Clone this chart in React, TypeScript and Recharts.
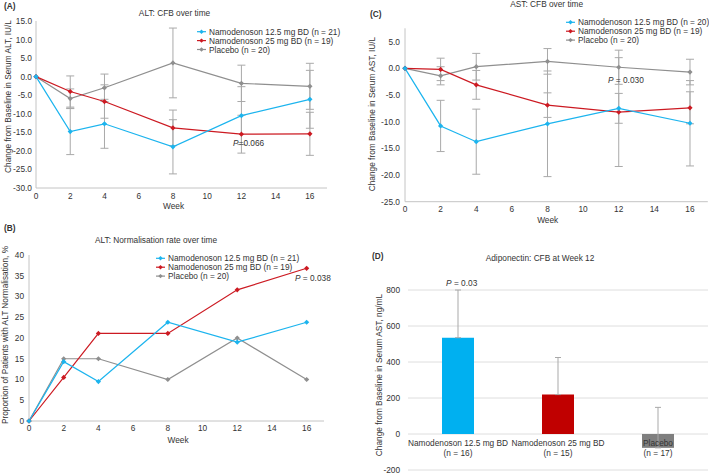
import { LineChart, Line, BarChart, Bar, Cell, XAxis, YAxis, CartesianGrid, ErrorBar } from 'recharts';

const weeks = [0, 2, 4, 8, 12, 16];
const weekTicks = [0, 2, 4, 6, 8, 10, 12, 14, 16];

// (A) ALT change from baseline, IU/L
const altCfb125 = [0, -14.8, -12.7, -18.9, -10.5, -6.1];
const altCfb25 = [0, -4.0, -6.7, -13.8, -15.5, -15.4];
const altCfbPbo = [0, -5.9, -3.0, 3.7, -1.8, -2.6];
const altErr125 = [null, 6.2, 6.6, 7.3, 7.8, 7.8];
const altErr25 = [null, 4.2, 4.5, 4.8, 5.1, 5.8];
const altErrPbo = [null, 2.6, 3.7, 9.4, 4.9, 6.2];
const altCfbTicks = [-30, -25, -20, -15, -10, -5, 0, 5, 10, 15];
const altLegend = ['Namodenoson 12.5 mg BD (n = 21)', 'Namodenoson 25 mg BD (n = 19)', 'Placebo (n = 20)'];

// (B) ALT normalisation rate, %
const altNorm125 = [0, 14.3, 9.5, 23.8, 19.0, 23.8];
const altNorm25 = [0, 10.5, 21.1, 21.1, 31.6, 36.8];
const altNormPbo = [0, 15, 15, 10, 20, 10];
const normTicks = [0, 5, 10, 15, 20, 25, 30, 35, 40];

// (C) AST change from baseline, IU/L
const astCfb125 = [0, -10.8, -13.75, -10.4, -7.5, -10.3];
const astCfb25 = [0, -0.2, -3.1, -6.9, -8.2, -7.4];
const astCfbPbo = [0, -1.4, 0.3, 1.3, 0.2, -0.7];
const astErr125 = [null, 4.8, 6.1, 9.9, 2.8, 8.0];
const astErr25 = [null, 2.1, 2.7, 2.3, 10.2, 3.0];
const astErrPbo = [null, 1.7, 2.5, 2.4, 3.2, 2.4];
const astCfbTicks = [-25, -20, -15, -10, -5, 0, 5];
const astLegend = ['Namodenoson 12.5 mg BD (n = 20)', 'Namodenoson 25 mg BD (n = 19)', 'Placebo (n = 20)'];

// (D) Adiponectin change at week 12, ng/mL
const adipoGroups = ['Namodenoson 12.5 mg BD', 'Namodenoson 25 mg BD', 'Placebo'];
const adipoN = ['(n = 16)', '(n = 15)', '(n = 17)'];
const adipoCfb = [535, 219, -77];
const adipoErrUp = [265, 206, 225];
const adipoTicks = [-200, 0, 200, 400, 600, 800];

const FONT = '"Liberation Sans", Arial, Helvetica, sans-serif';
const BLUE = '#1cb4ee';
const RED = '#cc1a22';
const GRAY = '#8f8f8f';
const ERR = '#a9a9a9';
const AXIS = '#c4c4c4';
const TXT = '#333';
const FS = 8.3;
const seriesColors = [BLUE, RED, GRAY];
const barColors = ['#00b0f0', '#c00000', '#7f7f7f'];

const tickStyle = { fontSize: FS, fill: TXT, fontFamily: FONT };

const altCfbRows = weeks.map((w, i) => ({
  week: w, a: altCfb125[i], b: altCfb25[i], c: altCfbPbo[i],
  ea: altErr125[i], eb: altErr25[i], ec: altErrPbo[i],
}));
const astCfbRows = weeks.map((w, i) => ({
  week: w, a: astCfb125[i], b: astCfb25[i], c: astCfbPbo[i],
  ea: astErr125[i], eb: astErr25[i], ec: astErrPbo[i],
}));
const normRows = weeks.map((w, i) => ({ week: w, a: altNorm125[i], b: altNorm25[i], c: altNormPbo[i] }));
const adipoRows = adipoGroups.map((g, i) => ({ name: g, v: adipoCfb[i], err: [0, adipoErrUp[i]] }));

const diamond = (color: string) => (p: any) => {
  if (p.cx == null || p.cy == null) return <g key={p.index} />;
  const s = 2.6;
  return (
    <path
      key={p.index}
      d={`M${p.cx},${p.cy - s}L${p.cx + s},${p.cy}L${p.cx},${p.cy + s}L${p.cx - s},${p.cy}Z`}
      fill={color}
    />
  );
};

function series(withErr: boolean) {
  const keys = ['c', 'b', 'a'];
  const cols = [GRAY, RED, BLUE];
  return keys.map((k, i) => (
    <Line
      key={k}
      dataKey={k}
      stroke={cols[i]}
      strokeWidth={1.2}
      dot={diamond(cols[i])}
      activeDot={false}
      isAnimationActive={false}
    >
      {withErr ? <ErrorBar dataKey={'e' + k} direction="y" width={4} stroke={ERR} strokeWidth={1} /> : null}
    </Line>
  ));
}

function Legend3({ x, y, labels }: { x: number; y: number; labels: string[] }) {
  return (
    <g>
      {labels.map((l, i) => {
        const cy = y + i * 8.9;
        return (
          <g key={l}>
            <line x1={x} x2={x + 9} y1={cy} y2={cy} stroke={seriesColors[i]} strokeWidth={1.2} />
            <path d={`M${x + 4.5},${cy - 2.2}L${x + 6.7},${cy}L${x + 4.5},${cy + 2.2}L${x + 2.3},${cy}Z`} fill={seriesColors[i]} />
            <text x={x + 12} y={cy + 3} fontSize={FS} fill={TXT}>{l}</text>
          </g>
        );
      })}
    </g>
  );
}

function VLabel({ x, y, text }: { x: number; y: number; text: string }) {
  return (
    <text x={x} y={y} fontSize={FS} fill={TXT} textAnchor="middle" transform={`rotate(-90 ${x} ${y})`}>
      {text}
    </text>
  );
}

const CatTick = (p: any) => {
  const i = p.index ?? p.payload?.index ?? 0;
  return (
    <g>
      <text x={p.x} y={p.y - 23.7} textAnchor="middle" fontSize={FS} fill={TXT} fontFamily={FONT}>{adipoGroups[i]}</text>
      <text x={p.x} y={p.y - 13.7} textAnchor="middle" fontSize={FS} fill={TXT} fontFamily={FONT}>{adipoN[i]}</text>
    </g>
  );
};

export default function App() {
  return (
    <div style={{ position: 'absolute', left: 0, top: 0, width: 709, height: 474, background: '#fff', fontFamily: FONT, overflow: 'hidden' }}>
      {/* (A) */}
      <div style={{ position: 'absolute', left: 0, top: 0 }}>
        <LineChart width={340} height={210} data={altCfbRows} margin={{ top: 21, right: 13, left: 0, bottom: 0 }}>
          <XAxis dataKey="week" type="number" domain={[0, 17]} ticks={weekTicks} interval={0} height={22} tickLine={false} tickSize={3} tickMargin={2} stroke={AXIS} tick={tickStyle} />
          <YAxis type="number" domain={[-30, 15]} ticks={altCfbTicks} interval={0} width={36} tickLine={false} tickSize={2} tickMargin={2} stroke={AXIS} tick={tickStyle} tickFormatter={(v: number) => v.toFixed(1)} />
          {series(true)}
        </LineChart>
      </div>

      {/* (B) */}
      <div style={{ position: 'absolute', left: 0, top: 235 }}>
        <LineChart width={340} height={215} data={normRows} margin={{ top: 20, right: 16, left: 0, bottom: 0 }}>
          <XAxis dataKey="week" type="number" domain={[0, 17]} ticks={weekTicks} interval={0} height={29} tickLine={false} tickSize={2} tickMargin={2} stroke={AXIS} tick={tickStyle} />
          <YAxis type="number" domain={[0, 40]} ticks={normTicks} interval={0} width={29} tickLine={false} tickSize={2} tickMargin={3} stroke={AXIS} tick={tickStyle} />
          {series(false)}
        </LineChart>
      </div>

      {/* (C) */}
      <div style={{ position: 'absolute', left: 355, top: 0 }}>
        <LineChart width={354} height={225} data={astCfbRows} margin={{ top: 28.3, right: 1.2, left: 0, bottom: 0 }}>
          <XAxis dataKey="week" type="number" domain={[0, 17]} ticks={weekTicks} interval={0} height={23.3} tickLine={false} tickSize={2} tickMargin={2} stroke={AXIS} tick={tickStyle} />
          <YAxis type="number" domain={[-25, 7.5]} ticks={astCfbTicks} interval={0} width={50} tickLine={false} tickSize={2} tickMargin={3} stroke={AXIS} tick={tickStyle} tickFormatter={(v: number) => v.toFixed(1)} />
          {series(true)}
        </LineChart>
      </div>

      {/* (D) */}
      <div style={{ position: 'absolute', left: 355, top: 270 }}>
        <BarChart width={354} height={204} data={adipoRows} margin={{ top: 20, right: 1, left: 0, bottom: 0 }}>
          <CartesianGrid vertical={false} stroke="#dedede" />
          <XAxis dataKey="name" height={4} axisLine={false} tickLine={false} tickSize={0} tickMargin={0} tick={<CatTick />} interval={0} />
          <YAxis type="number" domain={[-200, 800]} ticks={adipoTicks} interval={0} width={53} axisLine={false} tickLine={false} tickSize={4} tickMargin={4} tick={tickStyle} />
          <Bar dataKey="v" barSize={32} isAnimationActive={false}>
            {adipoRows.map((r, i) => <Cell key={r.name} fill={barColors[i]} />)}
            <ErrorBar dataKey="err" direction="y" width={3} stroke={ERR} strokeWidth={1} />
          </Bar>
        </BarChart>
      </div>

      <svg width={709} height={474} style={{ position: 'absolute', left: 0, top: 0, pointerEvents: 'none', fontFamily: FONT }}>
        {/* panel A */}
        <text x={4} y={9} fontSize={FS} fontWeight="bold" fill={TXT}>(A)</text>
        <text x={174.5} y={16.3} fontSize={FS} fill={TXT} textAnchor="middle">ALT: CFB over time</text>
        <Legend3 x={197} y={31.7} labels={altLegend} />
        <text x={233} y={146} fontSize={FS} fill={TXT}><tspan fontStyle="italic">P</tspan>=0.066</text>
        <text x={173.5} y={208.7} fontSize={FS} fill={TXT} textAnchor="middle">Week</text>
        <VLabel x={11} y={96.5} text="Change from Baseline in Serum ALT, IU/L" />

        {/* panel B */}
        <text x={4} y={231} fontSize={FS} fontWeight="bold" fill={TXT}>(B)</text>
        <text x={156} y={243} fontSize={FS} fill={TXT} textAnchor="middle">ALT: Normalisation rate over time</text>
        <Legend3 x={156} y={258.3} labels={altLegend} />
        <text x={295} y={280.7} fontSize={FS} fill={TXT}><tspan fontStyle="italic">P</tspan> = 0.038</text>
        <text x={178} y={443} fontSize={FS} fill={TXT} textAnchor="middle">Week</text>
        <VLabel x={8} y={335} text="Proportion of Patients with ALT Normalisation, %" />

        {/* panel C */}
        <text x={370} y={17} fontSize={FS} fontWeight="bold" fill={TXT}>(C)</text>
        <text x={546.7} y={7.3} fontSize={FS} fill={TXT} textAnchor="middle">AST: CFB over time</text>
        <Legend3 x={566} y={22.3} labels={astLegend} />
        <text x={608} y={83} fontSize={FS} fill={TXT}><tspan fontStyle="italic">P</tspan> = 0.030</text>
        <text x={547.7} y={223} fontSize={FS} fill={TXT} textAnchor="middle">Week</text>
        <VLabel x={374.5} y={114} text="Change from Baseline in Serum AST, IU/L" />

        {/* panel D */}
        <text x={372} y={259} fontSize={FS} fontWeight="bold" fill={TXT}>(D)</text>
        <text x={540} y={260.7} fontSize={FS} fill={TXT} textAnchor="middle">Adiponectin: CFB at Week 12</text>
        <text x={461.7} y={285.7} fontSize={FS} fill={TXT} textAnchor="middle"><tspan fontStyle="italic">P</tspan> = 0.03</text>
        <VLabel x={382} y={375} text="Change from Baseline in Serum AST, ng/mL" />
      </svg>
    </div>
  );
}
